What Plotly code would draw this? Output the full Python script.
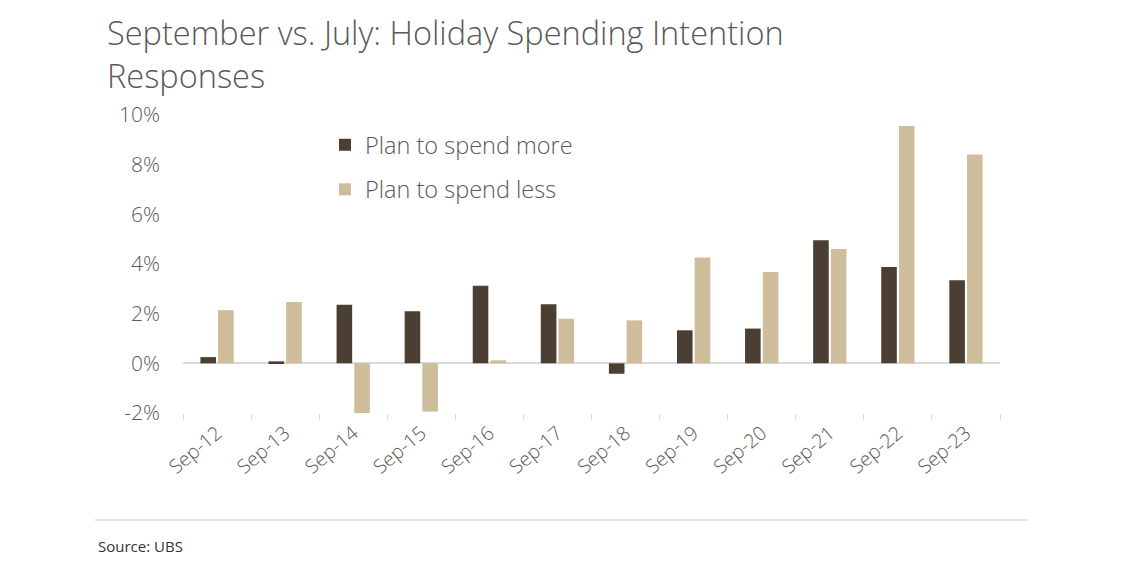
import plotly.graph_objects as go

categories = ["Sep-12", "Sep-13", "Sep-14", "Sep-15", "Sep-16", "Sep-17",
              "Sep-18", "Sep-19", "Sep-20", "Sep-21", "Sep-22", "Sep-23"]
spend_more = [0.25, 0.08, 2.36, 2.10, 3.12, 2.38, -0.42, 1.33, 1.40, 4.96, 3.88, 3.35]
spend_less = [2.14, 2.47, -2.00, -1.94, 0.12, 1.80, 1.73, 4.26, 3.68, 4.60, 9.56, 8.41]
y_tickvals = [-2, 0, 2, 4, 6, 8, 10]
y_ticktext = ["-2%", "0%", "2%", "4%", "6%", "8%", "10%"]
title_lines = ["September vs. July: Holiday Spending Intention", "Responses"]

FONT = "Open Sans"
GRAY = "#595959"
W, H = 1121, 575
OFF = 8  # page body margin offset
L, R, T, B = 183 - OFF, 121 + OFF, 115 - OFF, 162 + OFF
PW, PH = W - L - R, H - T - B


def px(x):
    return (x - OFF - L) / PW


def py(y):
    return (H - B - (y - OFF)) / PH


fig = go.Figure()
fig.add_trace(go.Bar(x=categories, y=spend_more, name="Plan to spend more",
                     legendgroup="more",
                     marker=dict(color="#4a3f32", line=dict(width=0))))
fig.add_trace(go.Bar(x=categories, y=spend_less, name="Plan to spend less",
                     legendgroup="less",
                     marker=dict(color="#cdbd9b", line=dict(width=0))))

fig.update_layout(
    width=W, height=H,
    paper_bgcolor="white", plot_bgcolor="white",
    margin=dict(l=L, r=R, t=T, b=B, autoexpand=False),
    barmode="group", bargap=0.48, bargroupgap=0.12,
    font=dict(family=FONT, color=GRAY),
    showlegend=True,
    legend=dict(x=px(325), y=py(123), xref="paper", yref="paper",
                xanchor="left", yanchor="top", traceorder="grouped",
                font=dict(family=FONT, size=23.5, color=GRAY, weight=300),
                bgcolor="rgba(0,0,0,0)", tracegroupgap=11, itemwidth=30),
    xaxis=dict(type="category", showgrid=False, showline=False, zeroline=False,
               ticks="outside", tickson="boundaries", ticklen=6, tickcolor="#d9d9d9",
               tickangle=-40, ticklabelstandoff=4,
               tickfont=dict(family=FONT, size=19.5, color=GRAY, weight=300)),
    yaxis=dict(range=[-2, 10], tickvals=y_tickvals, ticktext=y_ticktext,
               showgrid=False, showline=False, zeroline=True, zerolinecolor="#d9d9d9",
               zerolinewidth=2, ticks="", ticklabelstandoff=22,
               tickfont=dict(family=FONT, size=21, color=GRAY, weight=300)),
)

for line, yc in zip(title_lines, [32, 75]):
    fig.add_annotation(text=line, xref="paper", yref="paper", x=px(105), y=py(yc),
                       xanchor="left", yanchor="middle", align="left", showarrow=False,
                       font=dict(family=FONT, size=32.5, color=GRAY, weight=300))
fig.add_shape(type="line", xref="paper", yref="paper",
              x0=px(95), x1=px(1027), y0=py(520), y1=py(520),
              line=dict(color="#d9d9d9", width=1.5))
fig.add_annotation(text="Source: UBS", xref="paper", yref="paper",
                   x=px(96), y=py(546),
                   xanchor="left", yanchor="middle", showarrow=False,
                   font=dict(family=FONT, size=15, color="#333333"))

fig.write_html("out.html")
